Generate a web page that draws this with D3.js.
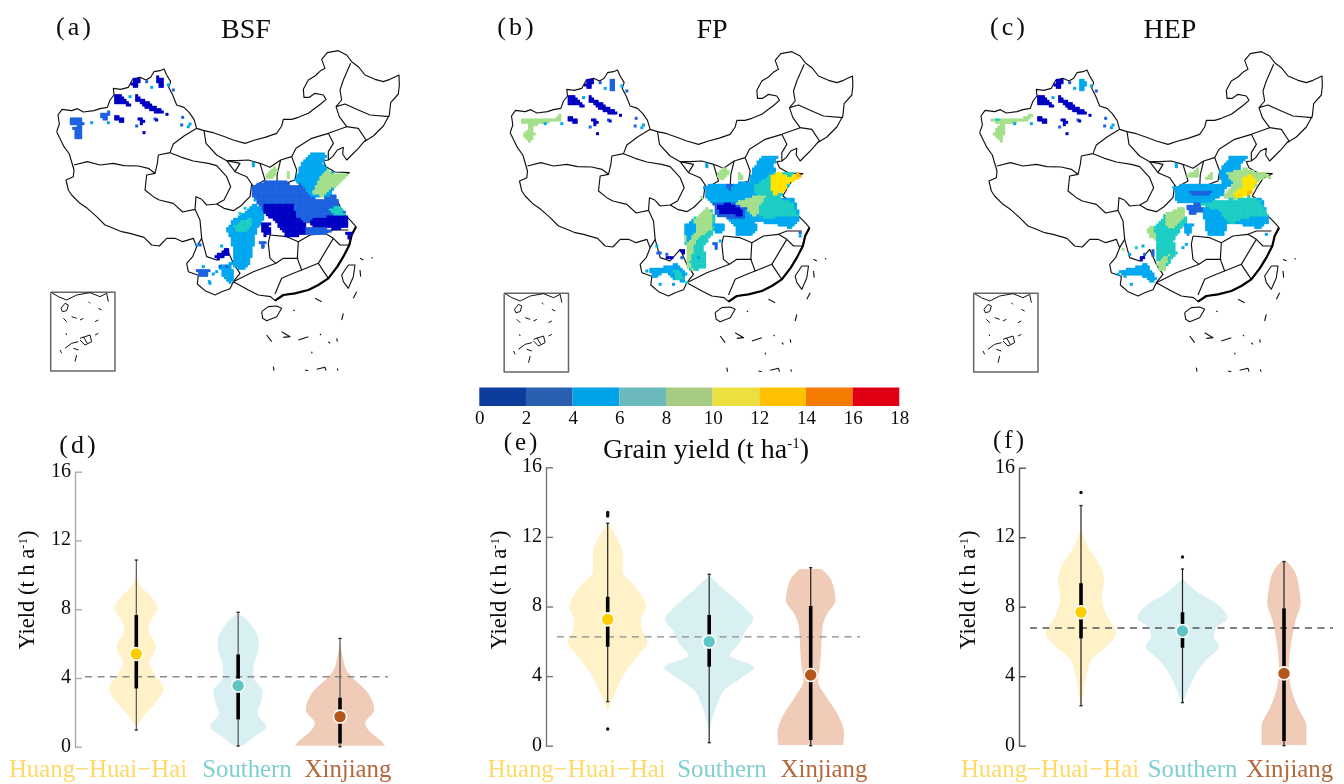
<!DOCTYPE html>
<html>
<head>
<meta charset="utf-8">
<script src="https://cdn.jsdelivr.net/npm/d3@7"></script>
<style>
  html, body { margin: 0; background: #fff; }
  text { font-family: "Liberation Serif", serif; fill: #0c0c0c; }
</style>
</head>
<body>
<div id="chart"></div>
<script>
// Regions and colour classes
const categories = ['Huang-Huai-Hai', 'Southern', 'Xinjiang'];
const yieldBreaks = [2, 4, 6, 8, 10, 12, 14, 16];
const colorbarTicks = [0, 2, 4, 6, 8, 10, 12, 14, 16, 18];
const colorbarColors = ['#0a3c9c', '#2b5fb0', '#00a2e8', '#6cb9bd', '#a8cb83', '#ebe040', '#ffc000', '#f57a00', '#e00012'];
const mapColors = ['#0000c4', '#1f62e0', '#00a8f0', '#1fcdc4', '#a4e08c', '#ffe400', '#ffb400', '#f57a00', '#e00012'];
const yieldTicks = [0, 4, 8, 12, 16];

// Violin outlines: yield level, then density at that level
const dLevels = [
  [10.08, 9.3, 8.73, 8.05, 7.37, 6.79, 5.82, 4.85, 4.27, 3.39, 2.72, 1.94, 1.16],
  [7.76, 7.37, 6.79, 6.11, 5.43, 4.65, 4.07, 3.2, 2.62, 1.94, 1.16, 0.58, 0.06],
  [6.2, 5.2, 4.4, 4.07, 3.1, 2.13, 1.36, 0.78, 0.3, 0.06]
];
const dDensity = [
  [0, 0.11, 0.33, 0.48, 0.33, 0.27, 0.44, 0.29, 0.4, 0.61, 0.47, 0.22, 0],
  [0, 0.19, 0.37, 0.46, 0.43, 0.34, 0.34, 0.55, 0.51, 0.43, 0.62, 0.36, 0.11],
  [0, 0.06, 0.15, 0.26, 0.63, 0.76, 0.56, 0.7, 0.93, 1]
];
const eLevels = [
  [12.8, 12.05, 11.06, 10.0, 9.33, 8.56, 7.97, 7.2, 6.62, 5.95, 5.27, 4.12, 2.97, 2.0],
  [9.8, 9.13, 8.56, 7.97, 7.3, 6.62, 5.85, 5.2, 4.5, 3.95, 3.17, 2.41, 1.26, 0.7],
  [10.15, 9.5, 8.35, 7.6, 6.8, 5.9, 4.7, 3.75, 2.8, 1.85, 0.7, 0.04]
];
const eDensity = [
  [0, 0.18, 0.33, 0.33, 0.55, 0.77, 0.85, 0.74, 0.77, 0.89, 0.7, 0.37, 0.15, 0],
  [0, 0.26, 0.52, 0.77, 0.98, 0.81, 0.66, 0.46, 1, 0.74, 0.33, 0.18, 0.04, 0],
  [0.24, 0.46, 0.55, 0.37, 0.26, 0.24, 0.21, 0.16, 0.35, 0.59, 0.74, 0.72]
];
const fLevels = [
  [12.6, 11.45, 10.3, 9.53, 8.57, 7.6, 6.45, 5.87, 4.9, 3.75, 2.4],
  [9.64, 8.77, 8.2, 7.33, 6.76, 6.28, 5.7, 4.93, 3.77, 2.8, 2.42],
  [10.6, 10.12, 9.16, 8.2, 7.23, 5.7, 4.35, 3.39, 2.24, 1.08, 0.04]
];
const fDensity = [
  [0, 0.15, 0.44, 0.51, 0.46, 0.55, 0.78, 0.63, 0.22, 0.1, 0.02],
  [0, 0.37, 0.74, 1, 0.74, 0.7, 0.81, 0.52, 0.22, 0.06, 0],
  [0.06, 0.22, 0.33, 0.37, 0.26, 0.15, 0.11, 0.15, 0.3, 0.5, 0.5]
];

// Box summaries per region: [whisker low, q1, median, q3, whisker high]
const dStats = [[0.97, 3.39, 5.39, 7.66, 10.86], [0.04, 1.59, 3.55, 5.37, 7.82], [0, 0.19, 1.75, 2.85, 6.3]];
const eStats = [[2.53, 5.69, 7.26, 8.56, 12.78], [0.17, 4.54, 5.98, 7.51, 9.85], [0, 0.33, 4.06, 8.03, 10.23]];
const fStats = [[2.3, 6.18, 7.68, 9.35, 13.82], [2.48, 5.64, 6.6, 7.68, 10.17], [0, 0.27, 4.16, 7.9, 10.6]];
const dOutliers = [[], [], []];
const eOutliers = [[0.96, 13.2, 13.3, 13.4], [], []];
const fOutliers = [[14.57], [10.86], []];
const dMeanLine = 4.07;
const eMeanLine = 6.26;
const fMeanLine = 6.77;

// Map linework, in map units (flat x,y lists)
const chinaBorder = [170,395,178,372,174,345,186,328,215,332,232,326,250,336,282,332,300,326,322,322,330,300,342,285,340,265,362,268,385,262,398,238,420,232,438,240,452,232,462,215,480,212,492,207,500,225,512,245,506,262,518,285,530,315,552,322,568,338,582,358,590,385,612,392,640,398,668,408,700,420,735,430,765,420,795,412,830,400,845,378,850,358,875,358,895,352,925,340,945,325,962,312,978,298,970,285,945,280,928,292,912,292,910,268,925,240,945,228,962,212,975,205,965,178,982,158,1015,152,1040,165,1055,185,1075,200,1095,225,1125,238,1150,245,1170,238,1197,225,1198,255,1195,282,1172,308,1168,345,1150,378,1120,408,1092,425,1075,445,1058,462,1040,480,1028,462,1030,442,1012,450,998,470,985,480,970,482,978,500,1005,516,1048,518,1020,532,1002,560,988,585,1012,602,1030,640,1052,662,1068,680,1055,705,1048,735,1030,770,1012,800,985,835,955,855,925,870,885,880,850,885,825,902,812,890,775,885,745,870,718,855,700,845,690,866,665,875,645,885,615,872,592,852,595,826,565,815,560,790,578,770,590,740,580,715,548,725,525,715,500,715,478,738,455,735,432,712,390,700,365,695,340,685,315,675,290,650,262,625,240,610,215,585,205,570,198,540,220,530,222,510,208,462,192,440,170,395];
const thickCoast = [1068,680,1055,705,1048,735,1030,770,1012,800,985,835,955,855,925,870,885,880,850,885,825,902];
const provinceLines = [
  [222,495,262,485,300,495,340,490,372,497,415,498,445,505,465,520,472,490,475,465,510,458,520,432,552,408,590,385],
  [465,520,440,525,435,570,460,590,478,600,520,610,548,636,585,628,588,590,605,598],
  [510,458,545,472,580,483,625,490,650,497,680,530,692,560,672,600,650,612,620,615,605,598],
  [585,628,600,660,605,715,590,740],
  [612,392,618,430,650,465,680,482,705,515,740,530,755,552,750,590,722,618,700,632,672,625,650,612],
  [705,515,720,490,680,482],
  [680,482,710,482,745,480,780,490,810,502,842,480,875,470,888,445,935,415,985,400,1040,380,1018,350,1008,320],
  [1052,190,1030,240,1020,270,1025,300,1008,320],
  [1008,320,1035,312,1075,330,1110,345,1168,350],
  [1040,380,1075,385,1098,420,1092,425],
  [985,400,1000,430,985,455,985,480],
  [842,480,832,520,830,560,870,545,885,540,890,510,875,470],
  [780,490,795,540,760,560,755,552],
  [605,715,620,770,650,780,680,745,700,790,720,820,700,845],
  [700,845,760,815,800,800,828,790,850,775,895,775],
  [810,705,805,730,810,775,828,790],
  [825,882,845,835,880,820,905,810],
  [895,725,892,775,905,810,955,790,985,835],
  [810,705,860,710,895,725,930,705,975,700,1000,715,1020,735,1048,735],
  [955,790,985,740,1000,715],
  [975,700,1000,690,1045,690]
];
const islandLines = [
  [785,935,805,920,830,918,845,925,830,950,800,962,788,955,785,935],
  [1045,795,1065,795,1060,830,1045,865,1030,845,1025,825,1045,795],
  [1080,775,1090,780],[1115,772,1118,775],[1080,810,1082,830],[1070,875,1060,895],[1030,940,1025,960],
  [945,895,965,905],[800,1005,815,1025],[845,995,870,1010,850,1012],[895,1020,925,1010],[1010,1015,1012,1025],
  [985,1025,990,1030],[820,1100,822,1112],[915,1110,925,1112],[950,1108,975,1102,978,1112],[1012,1105,1014,1112],
  [935,1055,936,1060],[880,930,884,932],[960,1002,963,1005]
];
const insetFrame = [152,877,345,877,345,1113,152,1113,152,877];
const insetLines = [
  [155,878,175,890,200,900,230,885,270,878,300,890,320,880,325,905],
  [183,925,195,910,205,915,200,932,187,935,183,925],
  [190,955,200,965],[215,950,230,955],[240,960,250,955],[285,965,295,960],[295,925,305,930],[265,905,270,910],
  [240,1015,270,1005,275,1025,255,1035,240,1020],[250,1010,262,1030],[180,1050,185,1060],[195,1045,215,1030,235,1025],
  [220,1045,235,1050],[225,1085,230,1065],[285,1005,295,1000],[198,1000,200,1005]
];

// Yield patches, each [yield, x,y list]; later ones sit on top
const xinjiangDark = [
  [1, [398,235,420,235,415,262,395,258]],
  [1, [340,280,365,288,392,318,345,308]],
  [1, [407,285,430,298,470,322,505,345,470,338,438,325,410,302]],
  [1, [345,348,372,352,368,366,348,362]],
  [1, [415,355,438,358,425,374]]
];
const aPatches = [
  [5, [680,690,700,660,730,640,760,610,790,625,790,660,770,690,760,740,750,790,730,810,700,800,700,760,695,720]],
  [7, [700,680,730,660,760,655,750,690,715,700]],
  [5, [660,795,690,790,705,830,690,850,665,825]],
  [3, [590,808,630,805,622,828,595,828]],
  [1, [645,768,682,745,690,760,655,780]],
  [3, [780,728,796,728,790,748]],
  [5, [885,540,905,490,925,465,945,455,985,465,965,490,985,510,1010,520,1050,518,1030,540,1000,570,985,590,930,590,905,570]],
  [8.6, [960,530,985,510,1005,525,1050,520,1030,540,1000,565,975,590,935,585,950,555]],
  [9, [795,530,820,500,835,510,815,540]],
  [9, [855,520,870,515,870,540]],
  [5, [755,487,767,487,762,510]],
  [3, [755,555,790,550,790,540,860,545,880,560,905,550,925,585,960,600,1005,585,1020,620,1045,650,1045,668,925,672,890,665,795,640,760,590]],
  [1, [795,610,880,610,890,650,920,670,915,705,860,712,845,690,820,662,790,640]],
  [1, [925,660,985,650,1045,650,1047,680,1010,690,975,682,940,682]],
  [1, [785,670,810,670,815,700,790,710]],
  [3, [920,685,970,680,1000,695,970,702,920,704]],
  [7, [985,625,1020,620,1040,650,1000,645]],
  [0, [812,655,835,668,830,688,808,680]],
  [1, [1040,700,1056,695,1050,722]],
  [3, [205,352,245,350,250,372,215,375]],
  [3, [220,385,245,370,247,418,225,418]],
  [3, [300,340,330,335,320,362,308,360]],
  [1, [470,230,490,235,495,265,475,265]],
  ...xinjiangDark
];
const bPatches = [
  [5, [840,600,1020,590,1040,650,1015,682,960,668,900,662,850,640]],
  [5, [752,557,780,547,820,552,850,547,885,542,900,502,925,467,950,462,980,465,960,487,965,512,950,537,910,587,880,597,840,607,770,602,755,582]],
  [3, [815,547,840,552,830,572]],
  [7, [900,557,960,517,1025,517,1005,557,980,587,940,607,910,587]],
  [11, [955,522,980,512,1005,527,1045,517,1030,537,1005,547,995,572,965,587,950,557]],
  [13, [1030,517,1048,519,1036,534]],
  [7, [920,607,980,592,1020,607,1035,647,980,647,940,657,905,637]],
  [9, [840,607,900,587,940,587,920,617,910,652,885,632]],
  [5, [850,617,880,637,900,662,915,677,890,707,850,702,845,677,820,647]],
  [3, [780,607,840,607,880,622,875,657,825,652,790,647]],
  [1, [790,612,830,607,870,627,870,647,830,642,800,642]],
  [7, [690,682,725,647,780,627,785,687,750,737,760,797,710,812,700,757]],
  [9, [730,647,760,617,780,637,775,687,730,717,710,787,720,807,700,797,700,737,690,687]],
  [5, [690,677,720,652,730,687,705,727]],
  [5, [585,802,640,797,670,787,700,817,690,842,655,832,640,812,600,832]],
  [7, [660,807,680,807,695,837,670,837]],
  [1, [635,767,655,767,670,777,650,777]],
  [1, [680,747,695,742,690,762]],
  [3, [610,752,625,757,615,767]],
  [5, [780,667,810,667,815,692,785,697]],
  [3, [780,727,795,727,790,747]],
  [9, [790,522,815,497,830,512,805,537]],
  [9, [850,537,860,512,870,537]],
  [5, [755,487,767,487,762,507]],
  [3, [468,232,485,237,485,272,470,267]],
  [5, [475,327,505,345,490,342]],
  [9, [205,352,250,357,295,357,320,342,325,357,250,372,235,382,245,402,230,422,210,402,230,372,205,367]],
  ...xinjiangDark
];
const cPatches = [
  [5, [841,600,1015,590,1041,662,1011,682,960,672,905,668,851,640]],
  [5, [751,557,801,547,851,547,911,552,901,582,851,607,761,602]],
  [3, [795,567,851,572,891,577,811,587]],
  [5, [886,517,921,467,981,462,951,492,961,517,931,557,901,552]],
  [7, [831,607,901,597,981,587,1011,597,1036,647,971,652,921,672,891,637]],
  [9, [911,517,971,502,1001,512,1046,522,1011,537,991,567,941,597,901,587,931,547]],
  [11, [961,527,986,522,1001,542,981,582,946,592,931,577,961,557]],
  [13, [971,572,991,567,976,589]],
  [5, [971,657,1031,647,1041,662,1011,682,981,672]],
  [5, [841,622,891,627,911,677,901,707,856,707,846,677]],
  [3, [791,612,831,607,841,632,801,642]],
  [7, [686,687,731,637,781,617,791,662,751,717,761,757,721,807,701,777,701,727]],
  [9, [671,687,691,672,701,717,681,707]],
  [9, [731,637,781,617,786,647,751,687,731,677]],
  [9, [701,787,741,757,726,807,711,812]],
  [5, [586,812,641,797,671,787,701,832,686,847,656,822,601,827]],
  [1, [646,767,666,767,656,779]],
  [3, [686,747,696,747,691,767]],
  [5, [781,667,811,667,801,702,786,697]],
  [9, [786,527,826,502,826,532]],
  [9, [851,532,866,517,866,537]],
  [5, [755,487,767,487,762,507]],
  [5, [471,232,489,242,486,267,471,267]],
  [5, [478,327,506,345,490,342]],
  [9, [206,357,241,352,301,352,331,337,316,357,241,372,246,387,236,422,211,397,231,372]],
  [7, [210,355,236,355,231,365]],
  ...xinjiangDark
];
// Scattered single cells: [yield, x, y]
const sharedSpeckle = [[3,465,357],[3,545,375],[5,570,372],[1,432,398],[3,520,270],[5,325,368],[5,275,368],[3,410,378],[5,455,262],[5,390,290],[1,470,360],[3,440,245],[5,505,255],[3,548,352],[5,565,380]];
const aSpeckle = [[5,630,850],[5,685,840],[3,600,735],[5,665,738],[3,790,738],[5,640,822],[7,720,640],[5,650,815],[3,660,800],[5,610,800],[5,695,790],[3,680,800],[5,590,735],[5,628,845],[7,735,625],[5,765,600]];
const bSpeckle = [[5,610,735],[3,685,770],[5,735,770],[7,745,780],[5,1040,705],[3,1040,695],[5,620,850],[5,660,850],[7,700,845],[5,610,825],[3,640,760],[9,745,590],[5,580,810],[5,800,720]];
const cSpeckle = [[5,625,850],[3,665,760],[5,780,740],[5,1030,700],[9,600,745],[5,620,760],[7,640,740],[5,660,735],[5,585,820],[5,680,830],[9,1040,530],[5,790,730]];

const width = 1344;
const height = 784;

const svg = d3.select('#chart')
  .append('svg')
  .attr('width', width)
  .attr('height', height)
  .style('display', 'block');

// Slight softening, the source figure is a resampled raster
svg.append('defs').append('filter').attr('id', 'soft')
  .attr('filterUnits', 'userSpaceOnUse')
  .attr('x', 0).attr('y', 0).attr('width', width).attr('height', height)
  .append('feGaussianBlur').attr('stdDeviation', 0.45);

const root = svg.append('g').attr('filter', 'url(#soft)');
root.append('rect').attr('width', width).attr('height', height).attr('fill', '#fff');

const mapColor = d3.scaleThreshold().domain(yieldBreaks).range(mapColors);
const barColor = d3.scaleThreshold().domain(yieldBreaks).range(colorbarColors);

function toPairs(flat) {
  return d3.range(0, flat.length, 2).map(i => [flat[i], flat[i + 1]]);
}

// Draw one map panel
function drawMap(shiftX, shiftY, patches, speckle) {
  const mapX = d3.scaleLinear().domain([0, 3]).range([shiftX, shiftX + 1]);
  const mapY = d3.scaleLinear().domain([0, 3]).range([shiftY, shiftY + 1]);
  const line = d3.line().x(d => mapX(d[0])).y(d => mapY(d[1]));
  const g = root.append('g').attr('fill', 'none').attr('stroke-linejoin', 'round');

  [chinaBorder, ...provinceLines].forEach(l => {
    g.append('path').attr('d', line(toPairs(l))).attr('stroke', '#111').attr('stroke-width', 1.15);
  });
  g.append('path').attr('d', line(toPairs(thickCoast))).attr('stroke', '#000').attr('stroke-width', 2.2);
  islandLines.forEach(l => {
    g.append('path').attr('d', line(toPairs(l))).attr('stroke', '#111').attr('stroke-width', 1.1);
  });

  // Rasterise the patches onto the yield grid
  const rings = patches.map(p => ({ value: p[0], ring: toPairs(p[1]) }));
  const cells = [];
  d3.range(165, 1100, 7).forEach(x => {
    d3.range(210, 880, 7).forEach(y => {
      const hit = rings.filter(p => d3.polygonContains(p.ring, [x, y])).pop();
      if (hit && hit.value > 0) cells.push([hit.value, x, y]);
    });
  });
  const allCells = cells.concat(sharedSpeckle, speckle);
  g.selectAll('.cell').data(allCells).enter().append('rect')
    .attr('class', 'cell')
    .attr('x', d => mapX(d[1] - 4.5))
    .attr('y', d => mapY(d[2] - 4.5))
    .attr('width', mapX(9) - mapX(0))
    .attr('height', mapY(9) - mapY(0))
    .attr('fill', d => mapColor(d[0]));

  // Inset
  g.append('path').attr('d', line(toPairs(insetFrame))).attr('stroke', '#666').attr('stroke-width', 1.5);
  insetLines.forEach(l => {
    g.append('path').attr('d', line(toPairs(l))).attr('stroke', '#111').attr('stroke-width', 1);
  });
}

drawMap(0, 0, aPatches, aSpeckle);
drawMap(453.5, 1, bPatches, bSpeckle);
drawMap(923, 1, cPatches, cSpeckle);

// Panel letters and titles
function addLabel(text, x, y, size) {
  root.append('text').attr('x', x).attr('y', y).attr('text-anchor', 'middle')
    .style('font-size', size + 'px').style('letter-spacing', '3px').text(text);
}
addLabel('(a)', 75, 35, 26);
addLabel('(b)', 517, 35, 26);
addLabel('(c)', 1009, 35, 26);
addLabel('(d)', 79, 453, 26);
addLabel('(e)', 522, 450, 25);
addLabel('(f)', 1010, 448, 25);
root.append('text').attr('x', 246).attr('y', 38).attr('text-anchor', 'middle').style('font-size', '28px').text('BSF');
root.append('text').attr('x', 712).attr('y', 38).attr('text-anchor', 'middle').style('font-size', '28px').text('FP');
root.append('text').attr('x', 1170).attr('y', 38).attr('text-anchor', 'middle').style('font-size', '28px').text('HEP');

// Colour bar
const barX = d3.scaleLinear().domain([0, 18]).range([479.3, 899.3]);
root.selectAll('.bar-seg').data(d3.pairs(colorbarTicks)).enter().append('rect')
  .attr('class', 'bar-seg')
  .attr('x', d => barX(d[0]))
  .attr('y', 387.5)
  .attr('width', d => barX(d[1]) - barX(d[0]))
  .attr('height', 18.5)
  .attr('fill', d => barColor(d[0] + 1));

const barAxis = root.append('g')
  .attr('transform', 'translate(0,406)')
  .call(d3.axisBottom(barX).tickValues(colorbarTicks).tickSize(0).tickPadding(5));
barAxis.select('.domain').remove();
barAxis.selectAll('text').style('font-size', '19px').style('font-family', '"Liberation Serif", serif');

const barTitle = root.append('text').attr('x', 706).attr('y', 458).attr('text-anchor', 'middle').style('font-size', '28px');
barTitle.append('tspan').text('Grain yield (t ha');
barTitle.append('tspan').attr('dy', -10).style('font-size', '15px').text('-1');
barTitle.append('tspan').attr('dy', 10).text(')');

// Violin colours
const violinFill = ['#fff2c8', '#d8f0f1', '#f0cbb8'];
const medianFill = ['#ffcc00', '#5fc4c4', '#b5561a'];
const labelFill = ['#ffd966', '#7fcfd0', '#b5673a'];

// Draw one violin panel
function drawViolins(cfg) {
  const y = d3.scaleLinear().domain([0, 16]).range([cfg.y0, cfg.y16]);
  const x = d3.scalePoint().domain(categories).range(cfg.xRange);
  const widthScale = d3.scaleLinear().domain([0, 1]).range([0, 45]);
  const g = root.append('g');

  categories.forEach((cat, i) => {
    const shape = d3.zip(cfg.levels[i], cfg.density[i]);
    const area = d3.area()
      .y(d => y(d[0]))
      .x0(d => x(cat) - widthScale(d[1]))
      .x1(d => x(cat) + widthScale(d[1]))
      .curve(d3.curveMonotoneY);
    g.append('path').attr('d', area(shape)).attr('fill', violinFill[i]);
  });

  // Reference line
  g.append('line')
    .attr('x1', cfg.lineRange[0]).attr('x2', cfg.lineRange[1])
    .attr('y1', y(cfg.meanLine)).attr('y2', y(cfg.meanLine))
    .attr('stroke', cfg.lineColor).attr('stroke-width', cfg.lineWidth)
    .attr('stroke-dasharray', '7,5.5');

  categories.forEach((cat, i) => {
    const [low, q1, med, q3, high] = cfg.stats[i];
    const cx = x(cat);
    g.append('line').attr('x1', cx).attr('x2', cx).attr('y1', y(low)).attr('y2', y(high))
      .attr('stroke', cfg.whiskerColor).attr('stroke-width', cfg.whiskerWidth);
    [low, high].forEach(v => {
      g.append('line').attr('x1', cx - 1.6).attr('x2', cx + 1.6).attr('y1', y(v)).attr('y2', y(v))
        .attr('stroke', '#222').attr('stroke-width', 1.3);
    });
    g.append('line').attr('x1', cx).attr('x2', cx).attr('y1', y(q1)).attr('y2', y(q3))
      .attr('stroke', '#000').attr('stroke-width', 3.6);
    g.selectAll('.outlier' + i).data(cfg.outliers[i]).enter().append('circle')
      .attr('cx', cx).attr('cy', d => y(d)).attr('r', 1.7).attr('fill', '#111');
    g.append('circle').attr('cx', cx).attr('cy', y(med)).attr('r', 6.5)
      .attr('fill', medianFill[i]).attr('stroke', '#fff').attr('stroke-width', 1.6);
    g.append('text').attr('x', cfg.labelX[i]).attr('y', 777).attr('text-anchor', 'middle')
      .style('font-size', '24.8px').style('fill', labelFill[i]).text(cat.replace(/-/g, '\u2212'));
  });

  // y axis, ticks point into the plot
  const axis = g.append('g')
    .attr('transform', `translate(${cfg.axisX},0)`)
    .call(d3.axisLeft(y).tickValues(yieldTicks).tickSizeInner(-7).tickSizeOuter(0).tickPadding(4));
  axis.select('.domain').attr('stroke', cfg.axisColor).attr('stroke-width', 1.4);
  axis.selectAll('line').attr('stroke', cfg.axisColor).attr('stroke-width', 1.4);
  axis.selectAll('text').style('font-size', '20px').style('font-family', '"Liberation Serif", serif')
    .attr('dy', '0.22em');

  const yTitle = g.append('text')
    .attr('transform', `translate(${cfg.titleX},590) rotate(-90)`)
    .attr('text-anchor', 'middle')
    .style('font-size', '22.5px');
  yTitle.append('tspan').text('Yield (t h a');
  yTitle.append('tspan').attr('dy', -7).style('font-size', '13px').text('-1');
  yTitle.append('tspan').attr('dy', 7).text(')');
}

drawViolins({
  y0: 746.7, y16: 471.7, xRange: [136.3, 340], axisX: 75, titleX: 34, axisColor: '#aaa',
  levels: dLevels, density: dDensity, stats: dStats, outliers: dOutliers, meanLine: dMeanLine,
  lineRange: [85, 388], lineColor: '#8a8a8a', lineWidth: 1.6,
  whiskerColor: '#444', whiskerWidth: 1.1,
  labelX: [98, 247, 348]
});
drawViolins({
  y0: 745.7, y16: 467.3, xRange: [607.7, 810.7], axisX: 546, titleX: 506, axisColor: '#777',
  levels: eLevels, density: eDensity, stats: eStats, outliers: eOutliers, meanLine: eMeanLine,
  lineRange: [557, 860], lineColor: '#8a8a8a', lineWidth: 1.3,
  whiskerColor: '#222', whiskerWidth: 1.2,
  labelX: [576.7, 722, 824]
});
drawViolins({
  y0: 745.7, y16: 467.7, xRange: [1081, 1284], axisX: 1019, titleX: 975, axisColor: '#555',
  levels: fLevels, density: fDensity, stats: fStats, outliers: fOutliers, meanLine: fMeanLine,
  lineRange: [1030, 1333], lineColor: '#555', lineWidth: 1.6,
  whiskerColor: '#222', whiskerWidth: 1.2,
  labelX: [1050, 1192.6, 1289.7]
});
</script>
</body>
</html>
